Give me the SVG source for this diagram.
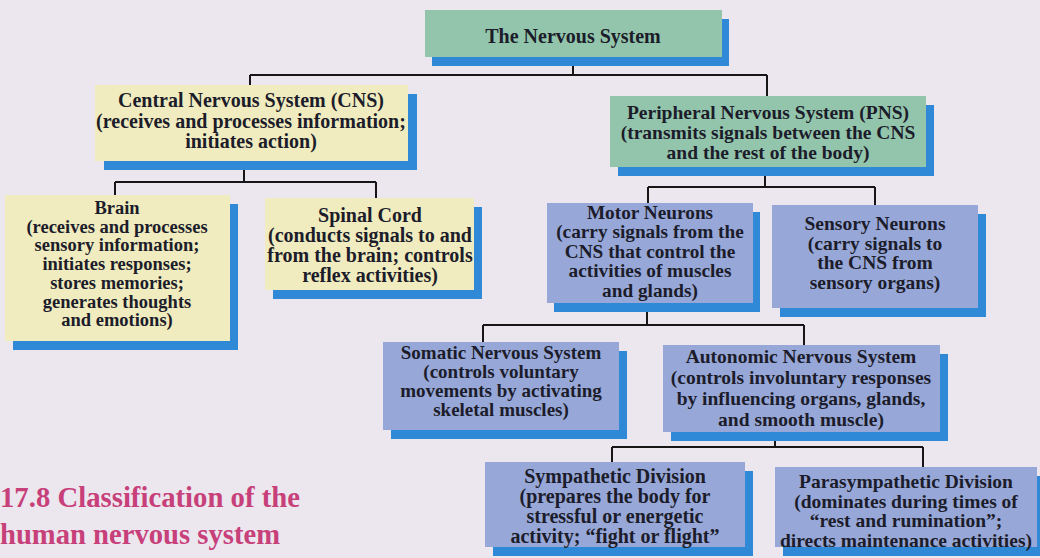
<svg xmlns="http://www.w3.org/2000/svg" width="1040" height="558" viewBox="0 0 1040 558">
<style>
.bg{fill:#ece7ee}
.sh{fill:#2f89d6}
.gr{fill:#93c5ac}
.ye{fill:#f0ecbf}
.bl{fill:#97a8d8}
.node text{font-family:'Liberation Serif','DejaVu Serif',serif;font-weight:700;font-size:19px;fill:#1c1c2a;text-anchor:middle}
.conn path{fill:none;stroke:#161616;stroke-width:2}
.head{font-family:'Liberation Serif','DejaVu Serif',serif;font-weight:700;font-size:30px;fill:#c7407a}
</style>
<rect class="bg" x="0" y="0" width="1040" height="558"/>

<g id="connectors" class="conn">
<path d="M573 66V75M250 75H767M250 75V85M767 75V96"/>
<path d="M244 170V182M115 182H376M115 182V195M376 182V198"/>
<path d="M765 176V187M648 187H875M648 187V203M875 187V205"/>
<path d="M647 312V325M483 325H804M483 325V342M804 325V345"/>
<path d="M775 441V447M612 447H923M612 447V462M923 447V467"/>
</g>

<g id="n-root" class="node">
<rect class="sh" x="432" y="19" width="297" height="47"/>
<rect class="gr" x="425" y="10" width="297" height="47"/>
<text x="573" y="43" style="font-size:20px">The Nervous System</text>
</g>

<g id="n-cns" class="node" style="font-size:20px">
<rect class="sh" x="104" y="94" width="313" height="76"/>
<rect class="ye" x="95" y="85" width="313" height="76"/>
<text x="251" y="107" style="font-size:20px">Central Nervous System (CNS)</text>
<text x="251" y="127.5" style="font-size:20px">(receives and processes information;</text>
<text x="251" y="148" style="font-size:20px">initiates action)</text>
</g>

<g id="n-pns" class="node">
<rect class="sh" x="618" y="105" width="316" height="71"/>
<rect class="gr" x="610" y="96" width="316" height="71"/>
<text x="768" y="118.5" style="font-size:19.5px">Peripheral Nervous System (PNS)</text>
<text x="768" y="138.5" style="font-size:19.5px">(transmits signals between the CNS</text>
<text x="768" y="158.5" style="font-size:19.5px">and the rest of the body)</text>
</g>

<g id="n-brain" class="node">
<rect class="sh" x="13" y="204" width="225" height="146"/>
<rect class="ye" x="5" y="195" width="225" height="146"/>
<text x="117" y="214" style="font-size:18.5px">Brain</text>
<text x="117" y="232.7" style="font-size:18.5px">(receives and processes</text>
<text x="117" y="251.4" style="font-size:18.5px">sensory information;</text>
<text x="117" y="270.1" style="font-size:18.5px">initiates responses;</text>
<text x="117" y="288.8" style="font-size:18.5px">stores memories;</text>
<text x="117" y="307.5" style="font-size:18.5px">generates thoughts</text>
<text x="117" y="326.2" style="font-size:18.5px">and emotions)</text>
</g>

<g id="n-spinal" class="node">
<rect class="sh" x="273" y="207" width="209" height="92"/>
<rect class="ye" x="265" y="198" width="209" height="92"/>
<text x="370" y="222" style="font-size:20px">Spinal Cord</text>
<text x="370" y="242" style="font-size:20px">(conducts signals to and</text>
<text x="370" y="262" style="font-size:20px">from the brain; controls</text>
<text x="370" y="282" style="font-size:20px">reflex activities)</text>
</g>

<g id="n-motor" class="node">
<rect class="sh" x="554" y="212" width="206" height="100"/>
<rect class="bl" x="547" y="203" width="206" height="100"/>
<text x="650" y="218.5" style="font-size:19.3px">Motor Neurons</text>
<text x="650" y="238" style="font-size:19.3px">(carry signals from the</text>
<text x="650" y="257.5" style="font-size:19.3px">CNS that control the</text>
<text x="650" y="277" style="font-size:19.3px">activities of muscles</text>
<text x="650" y="296.5" style="font-size:19.3px">and glands)</text>
</g>

<g id="n-sensory" class="node">
<rect class="sh" x="780" y="214" width="206" height="103"/>
<rect class="bl" x="772" y="205" width="206" height="103"/>
<text x="875" y="230" style="font-size:19.5px">Sensory Neurons</text>
<text x="875" y="249.5" style="font-size:19.5px">(carry signals to</text>
<text x="875" y="269" style="font-size:19.5px">the CNS from</text>
<text x="875" y="288.5" style="font-size:19.5px">sensory organs)</text>
</g>

<g id="n-somatic" class="node">
<rect class="sh" x="391" y="351" width="236" height="88"/>
<rect class="bl" x="383" y="342" width="236" height="88"/>
<text x="501" y="359">Somatic Nervous System</text>
<text x="501" y="378">(controls voluntary</text>
<text x="501" y="397">movements by activating</text>
<text x="501" y="416">skeletal muscles)</text>
</g>

<g id="n-autonomic" class="node">
<rect class="sh" x="671" y="354" width="277" height="87"/>
<rect class="bl" x="663" y="345" width="277" height="87"/>
<text x="801" y="363" style="font-size:19.5px">Autonomic Nervous System</text>
<text x="801" y="384" style="font-size:19.5px">(controls involuntary responses</text>
<text x="801" y="405" style="font-size:19.5px">by influencing organs, glands,</text>
<text x="801" y="426" style="font-size:19.5px">and smooth muscle)</text>
</g>

<g id="n-sympathetic" class="node">
<rect class="sh" x="493" y="471" width="260" height="85"/>
<rect class="bl" x="485" y="462" width="260" height="85"/>
<text x="615" y="483" style="font-size:20px">Sympathetic Division</text>
<text x="615" y="503" style="font-size:20px">(prepares the body for</text>
<text x="615" y="523" style="font-size:20px">stressful or energetic</text>
<text x="615" y="543" style="font-size:20px">activity; “fight or flight”</text>
</g>

<g id="n-parasympathetic" class="node">
<rect class="sh" x="783" y="476" width="262" height="80"/>
<rect class="bl" x="775" y="467" width="262" height="80"/>
<text x="906" y="488" style="font-size:19.5px">Parasympathetic Division</text>
<text x="906" y="507.5" style="font-size:19.5px">(dominates during times of</text>
<text x="906" y="527" style="font-size:19.5px">“rest and rumination”;</text>
<text x="906" y="546.5" style="font-size:19.5px">directs maintenance activities)</text>
</g>

<g id="heading">
<text class="head" x="0" y="507" textLength="300" lengthAdjust="spacingAndGlyphs">17.8 Classification of the</text>
<text class="head" x="0" y="544" textLength="280" lengthAdjust="spacingAndGlyphs">human nervous system</text>
</g>
</svg>
